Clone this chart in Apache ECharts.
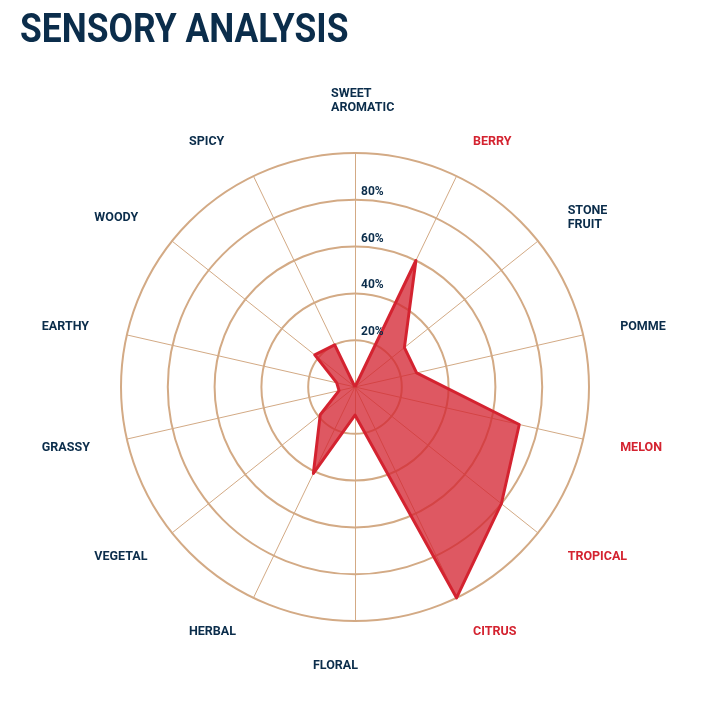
<!DOCTYPE html>
<html>
<head>
<meta charset="utf-8">
<script src="https://cdn.jsdelivr.net/npm/echarts@6/dist/echarts.min.js"></script>
<style>html,body{margin:0;padding:0;background:#fff;}#main{width:720px;height:718px;}</style>
</head>
<body>
<div id="main"></div>
<script>
// ---- data ----
const titleText = 'SENSORY ANALYSIS';
const categories = ['SWEET\nAROMATIC', 'BERRY', 'STONE\nFRUIT', 'POMME', 'MELON', 'TROPICAL', 'CITRUS', 'FLORAL', 'HERBAL', 'VEGETAL', 'GRASSY', 'EARTHY', 'WOODY', 'SPICY'];
const values = [0, 60, 27, 27, 72, 80, 100, 12, 41, 19, 7, 8, 22, 20];
const highlighted = ['BERRY', 'MELON', 'TROPICAL', 'CITRUS'];
const tickValues = [20, 40, 60, 80];

// ---- styles ----
const NAVY = '#0b2d4b';
const RED = '#d42330';
const TAN = '#d3aa85';
const FONT = "'Roboto', sans-serif";

// ECharts places radar indicators counter-clockwise; reverse to get clockwise order
const order = [0].concat(categories.map((c, i) => i).slice(1).reverse());
const indicators = order.map(i => ({
  name: categories[i],
  max: 100,
  min: 0,
  color: highlighted.includes(categories[i]) ? RED : NAVY
}));
const seriesValues = order.map(i => values[i]);

const chart = echarts.init(document.getElementById('main'), null, { renderer: 'canvas' });
chart.setOption({
  backgroundColor: '#fff',
  animation: false,
  graphic: [{
    type: 'text',
    x: 20,
    y: 12,
    scaleX: 0.885,
    style: {
      text: titleText,
      font: "bold 40px 'Roboto', sans-serif",
      fill: NAVY,
      verticalAlign: 'top',
      align: 'left'
    }
  }],
  radar: {
    center: [355, 387],
    radius: 234,
    startAngle: 90,
    shape: 'circle',
    splitNumber: 5,
    nameGap: 38,
    indicator: indicators,
    axisName: {
      fontFamily: FONT,
      fontWeight: 'bold',
      fontSize: 12.5,
      formatter: function (name) {
        const key = name === 'FLORAL' ? 'b' : 'n';
        return name.split('\n').map(s => '{' + key + '|' + s + '}').join('\n');
      },
      rich: {
        n: { width: 48, align: 'left', fontFamily: FONT, fontWeight: 'bold', fontSize: 12.5, lineHeight: 14 },
        b: { width: 48, align: 'left', padding: [0, 36, 0, 0], fontFamily: FONT, fontWeight: 'bold', fontSize: 12.5, lineHeight: 14 }
      }
    },
    splitLine: { lineStyle: { color: TAN, width: 2 } },
    splitArea: { show: false },
    axisLine: { lineStyle: { color: TAN, width: 1 } },
    axisTick: { show: false },
    axisLabel: { show: false }
  },
  polar: { center: [355, 387], radius: 234 },
  angleAxis: { show: false, startAngle: 90, min: 0, max: 360 },
  radiusAxis: {
    min: 0, max: 100, interval: 20,
    axisLine: { show: false },
    axisTick: { show: false },
    splitLine: { show: false },
    axisLabel: {
      show: true,
      fontFamily: FONT, fontWeight: 'bold', fontSize: 12, color: NAVY,
      formatter: v => tickValues.includes(v) ? v + '%' : '',
      align: 'left', verticalAlign: 'bottom', margin: -6,
      padding: [0, 0, 2, 0]
    },
    z: 10
  },
  series: [{
    type: 'radar',
    symbol: 'none',
    z: 3,
    data: [{
      value: seriesValues,
      lineStyle: { color: RED, width: 3 },
      areaStyle: { color: RED, opacity: 0.76 }
    }]
  }]
});
</script>
</body>
</html>
